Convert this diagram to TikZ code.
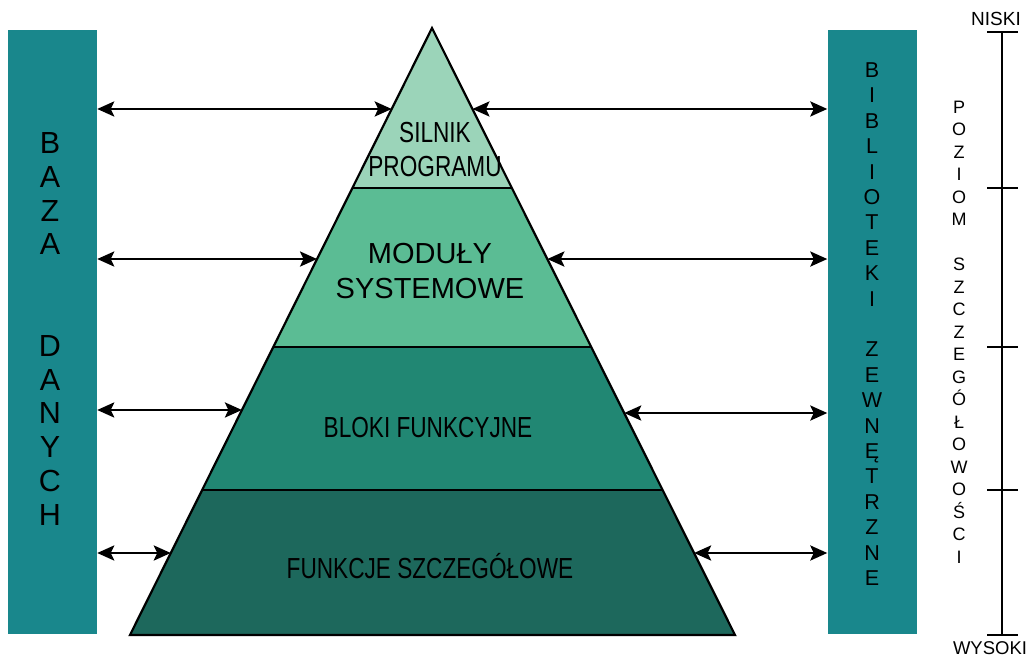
\documentclass[tikz,border=0pt]{standalone}
\usepackage{fontspec}
\setmainfont{Liberation Sans}
\newfontfamily\narrowfont[FakeStretch=0.78]{Liberation Sans}
\usetikzlibrary{arrows.meta,calc}

\definecolor{barteal}{RGB}{25,135,140}
\definecolor{layerA}{RGB}{155,212,185}
\definecolor{layerB}{RGB}{91,188,148}
\definecolor{layerC}{RGB}{33,135,115}
\definecolor{layerD}{RGB}{29,104,92}

\begin{document}
\begin{tikzpicture}[x=1pt, y=-1pt,
    bar/.style={fill=barteal, minimum width=89pt, minimum height=604pt, inner sep=0pt},
    layer/.style={draw=black, line width=2.2pt},
    letters/.style={align=center, inner sep=0pt},
    lbl/.style={align=center, inner sep=0pt},
    dbl/.style={{Stealth[length=17pt,width=15pt,inset=3.5pt]}-{Stealth[length=17pt,width=15pt,inset=3.5pt]}, line width=2.8pt},
    scaleline/.style={line width=2.2pt}]
  \useasboundingbox (0,0) rectangle (1032,658);
  % side bars
  \node[bar] (baza) at (52.5,332) {};
  \node[bar] (bibl) at (872,332) {};
  \node[letters, font=\fontsize{30.5}{33.8}\selectfont] (bazatxt) at (50,329)
    {B\\A\\Z\\A\\~\\~\\D\\A\\N\\Y\\C\\H};
  \node[letters, font=\fontsize{21.5}{25.4}\selectfont] (bibltxt) at (872,324)
    {B\\I\\B\\L\\I\\O\\T\\E\\K\\I\\~\\Z\\E\\W\\N\\Ę\\T\\R\\Z\\N\\E};
  % pyramid
  \coordinate (apex) at (432,28);
  \coordinate (bl) at (130,635);
  \coordinate (br) at (735,635);
  \path (apex) -- (bl) coordinate[pos=.2636] (l1) coordinate[pos=.5255] (l2) coordinate[pos=.7611] (l3)
        coordinate[pos=.1334] (la) coordinate[pos=.3806] (lb) coordinate[pos=.6293] (lc) coordinate[pos=.8649] (ld);
  \path (apex) -- (br) coordinate[pos=.2636] (r1) coordinate[pos=.5255] (r2) coordinate[pos=.7611] (r3)
        coordinate[pos=.1334] (ra) coordinate[pos=.3806] (rb) coordinate[pos=.6343] (rc) coordinate[pos=.8649] (rd);
  \fill[layerA] (apex) -- (r1) -- (l1) -- cycle;
  \fill[layerB] (l1) -- (r1) -- (r2) -- (l2) -- cycle;
  \fill[layerC] (l2) -- (r2) -- (r3) -- (l3) -- cycle;
  \fill[layerD] (l3) -- (r3) -- (br) -- (bl) -- cycle;
  \draw[layer] (l1) -- (r1) (l2) -- (r2) (l3) -- (r3);
  \draw[layer] (apex) -- (br) -- (bl) -- cycle;
  \node[lbl, font=\narrowfont\fontsize{29}{34}\selectfont] (silnik) at (435,150) {SILNIK\\PROGRAMU};
  \node[lbl, font=\fontsize{29}{35}\selectfont] (moduly) at (430,271.5) {MODUŁY\\SYSTEMOWE};
  \node[lbl, font=\narrowfont\fontsize{29}{34}\selectfont] (bloki) at (428,428) {BLOKI FUNKCYJNE};
  \node[lbl, font=\narrowfont\fontsize{29}{34}\selectfont] (funkcje) at (430,566) {FUNKCJE SZCZEGÓŁOWE};
  % arrows
  \draw[dbl] (baza.east |- la) -- (la);
  \draw[dbl] (baza.east |- lb) -- (lb);
  \draw[dbl] (baza.east |- lc) -- (lc);
  \draw[dbl] (baza.east |- ld) -- (ld);
  \draw[dbl] (ra) -- (bibl.west |- ra);
  \draw[dbl] (rb) -- (bibl.west |- rb);
  \draw[dbl] (rc) -- (bibl.west |- rc);
  \draw[dbl] (rd) -- (bibl.west |- rd);
  % scale
  \coordinate (stop) at (1002,32);
  \coordinate (sbot) at (1002,635);
  \draw[scaleline] (stop) -- (sbot);
  \foreach \yy in {32,188,347,490,635}
    \draw[scaleline] (987,\yy) -- (1018,\yy);
  \node[lbl, font=\fontsize{19}{24}\selectfont] (niski) at (996,19) {NISKI};
  \node[lbl, font=\fontsize{18.5}{24}\selectfont] (wysoki) at (990,648) {WYSOKI};
  \node[letters, font=\fontsize{18}{22.5}\selectfont] (poziom) at (959,332)
    {P\\O\\Z\\I\\O\\M\\~\\S\\Z\\C\\Z\\E\\G\\Ó\\Ł\\O\\W\\O\\Ś\\C\\I};
\end{tikzpicture}
\end{document}
